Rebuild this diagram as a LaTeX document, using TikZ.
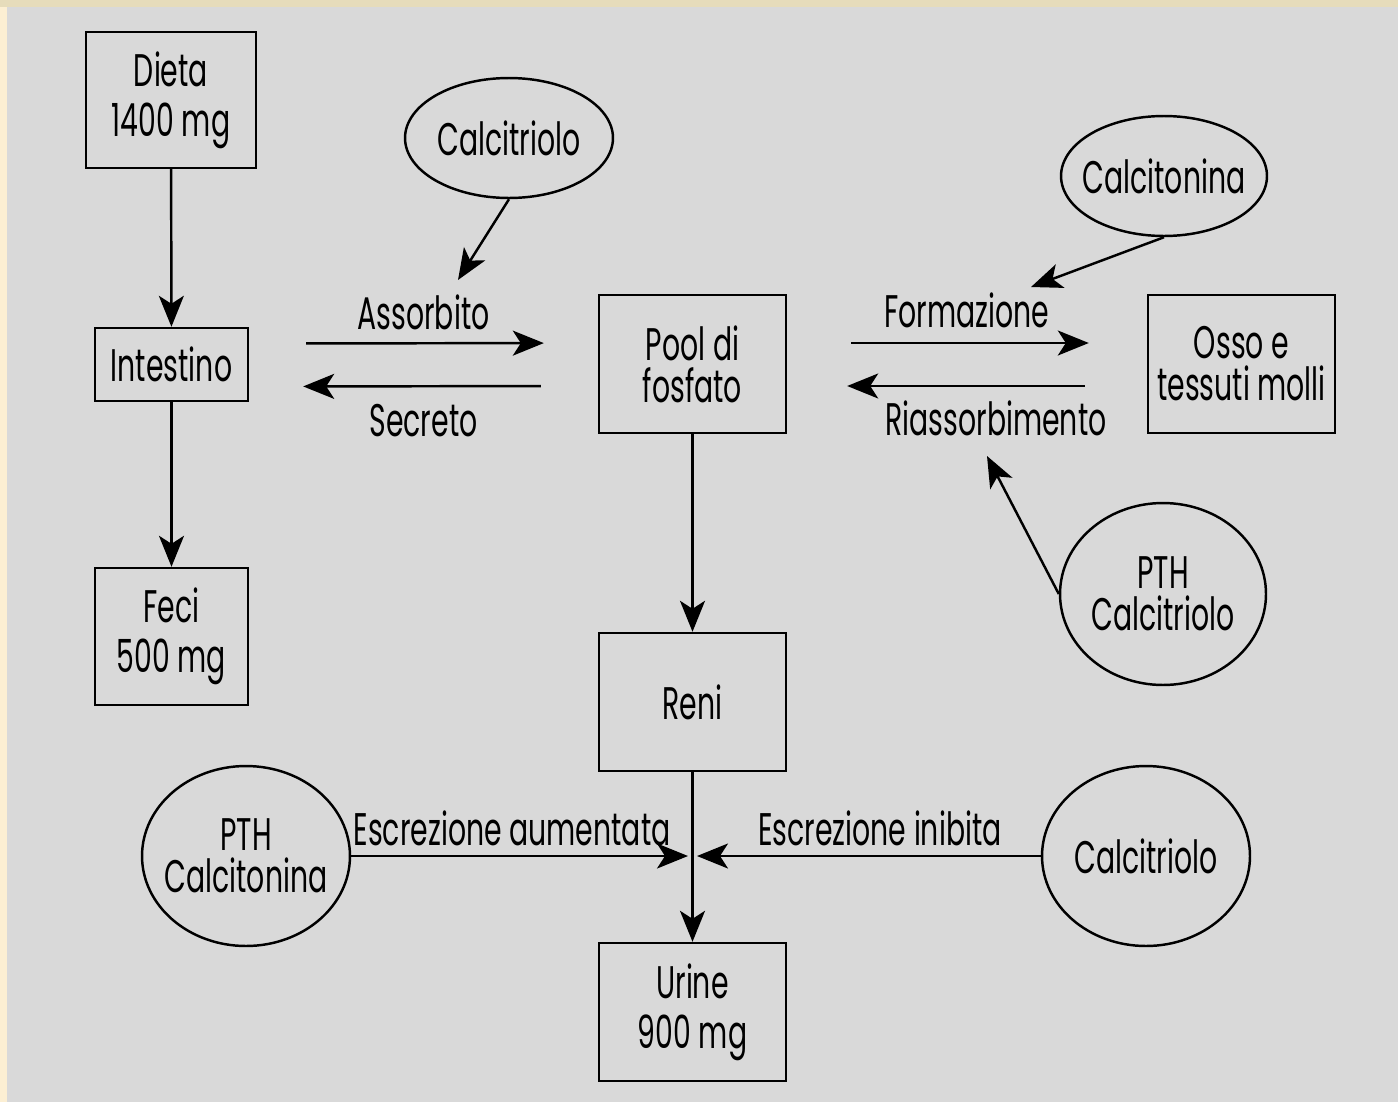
\documentclass[tikz,border=0pt]{standalone}
\usepackage{fontspec}
\setmainfont{Poppins}[FakeStretch=0.62]
\usetikzlibrary{arrows.meta,shapes.geometric}
\definecolor{panel}{HTML}{D9D9D9}
\definecolor{frameL}{HTML}{FCEFD3}
\definecolor{frameT}{HTML}{E6DCBB}

\tikzset{
  txt/.style={font=\fontsize{26}{28.5}\selectfont},
  tight/.style={font=\fontsize{26}{24}\selectfont},
  box/.style={txt,draw,line width=1.4pt,inner sep=0pt,align=center},
  oval/.style={tight,draw,ellipse,line width=1.4pt,inner ysep=0pt,inner xsep=-0.3cm,align=center},
  flow/.style={line width=1.4pt,-{Stealth[length=0.62cm,width=0.5cm,inset=0.16cm]}},
}

\begin{document}
\begin{tikzpicture}[x=0.02cm,y=-0.02cm]
  % frame and panel
  \fill[frameL] (0,0) rectangle (1398,1102);
  \fill[frameT] (0,0) rectangle (1398,7);
  \fill[panel] (7,7) rectangle (1398,1102);
  \useasboundingbox (0,0) rectangle (1398,1102);

  % left column
  \node[box,minimum width=3.4cm,minimum height=2.72cm] (dieta) at (171,100) {Dieta\\1400 mg};
  \node[box,minimum width=3.06cm,minimum height=1.46cm] (intestino) at (171.5,364.5) {Intestino};
  \node[box,minimum width=3.06cm,minimum height=2.74cm] (feci) at (171.5,636.5) {Feci\\500 mg};
  \draw[flow] (dieta) -- (intestino);
  \draw[flow] (intestino) -- (feci);

  % central column
  \node[box,tight,minimum width=3.74cm,minimum height=2.76cm] (pool) at (692.5,364) {Pool di\\fosfato};
  \node[box,minimum width=3.74cm,minimum height=2.76cm] (reni) at (692.5,702) {Reni};
  \node[box,minimum width=3.74cm,minimum height=2.76cm] (urine) at (692.5,1012) {Urine\\900 mg};
  \node[box,tight,minimum width=3.74cm,minimum height=2.76cm] (osso) at (1241.5,364) {Osso e\\tessuti molli};
  \draw[flow] (pool) -- (reni);
  \draw[flow] (reni) -- (urine);

  % intestine <-> pool
  \draw[flow,shorten <=1.14cm,shorten >=1.08cm] ([yshift=0.42cm]intestino.east) -- ([yshift=0.42cm]pool.west)
    node[txt,midway,yshift=0.62cm] {Assorbito};
  \draw[flow,shorten <=1.14cm,shorten >=1.08cm] ([yshift=-0.44cm]pool.west) -- ([yshift=-0.44cm]intestino.east)
    node[txt,midway,yshift=-0.68cm] {Secreto};

  % pool <-> bone
  \draw[flow,shorten <=1.28cm,shorten >=1.16cm] ([yshift=0.42cm]pool.east) -- ([yshift=0.42cm]osso.west)
    node[txt,midway,yshift=0.66cm] {Formazione};
  \draw[flow,shorten <=1.24cm,shorten >=1.2cm] ([yshift=-0.44cm]osso.west) -- ([yshift=-0.44cm]pool.east)
    node[txt,midway,yshift=-0.64cm,xshift=0.58cm] {Riassorbimento};

  % hormones
  \node[oval,minimum width=4.16cm,minimum height=2.4cm] (calctop) at (509,138) {Calcitriolo};
  \node[oval,minimum width=4.12cm,minimum height=2.4cm] (calcton) at (1164,176) {Calcitonina};
  \node[oval,minimum width=4.12cm,minimum height=3.64cm] (pthcr) at (1163,594) {PTH\\Calcitriolo};
  \node[oval,minimum width=4.16cm,minimum height=3.6cm] (pthct) at (246,856) {PTH\\Calcitonina};
  \node[oval,minimum width=4.16cm,minimum height=3.6cm] (calcbot) at (1146,856) {Calcitriolo};
  \coordinate (assin) at (458,280);
  \coordinate (formin) at (1031,287);
  \coordinate (riasin) at (987,456);
  \coordinate (junc) at (693,856);
  \draw[flow] (calctop.south) -- (assin);
  \draw[flow] (calcton.south) -- (formin);
  \draw[flow] (pthcr.west) -- (riasin);

  % excretion
  \draw[flow,shorten >=0.1cm] (pthct) -- (junc)
    node[txt,midway,yshift=0.56cm,xshift=-0.2cm] {Escrezione aumentata};
  \draw[flow,shorten >=0.08cm] (calcbot) -- (junc)
    node[txt,midway,yshift=0.56cm,xshift=0.26cm] {Escrezione inibita};
\end{tikzpicture}
\end{document}
